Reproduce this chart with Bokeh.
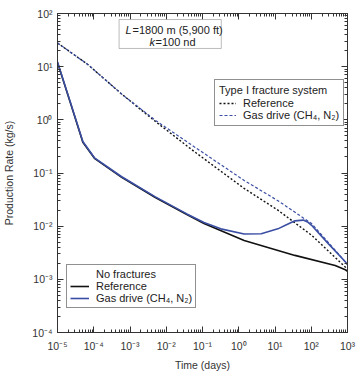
from bokeh.plotting import figure
from bokeh.models import (Range1d, LogAxis, FixedTicker, Legend, LegendItem,
                          Label, BoxAnnotation, CustomJSTickFormatter)
from bokeh.embed import file_html
from bokeh.resources import INLINE

# ---- data ----
# No fractures, reference (solid black)
t_nf_ref = [1e-5, 2.24e-5, 5.0e-5, 1.07e-4, 5.9e-4, 5.0e-3, 0.037, 0.11, 1.41, 35.5, 457, 871, 1000]
q_nf_ref = [12.0, 2.14, 0.38, 0.186, 0.083, 0.0347, 0.0166, 0.0112, 0.00537, 0.00282, 0.00182, 0.00151, 0.00142]

# No fractures, gas drive (solid blue)
t_nf_gas = [1e-5, 2.24e-5, 5.0e-5, 1.07e-4, 5.9e-4, 5.0e-3, 0.037, 0.11, 0.32, 1.41, 4.17, 12, 20, 35.5, 60, 79, 102, 295, 871, 1000]
q_nf_gas = [12.3, 2.2, 0.39, 0.19, 0.085, 0.0355, 0.0170, 0.0117, 0.0089, 0.0071, 0.0072, 0.0089, 0.0105, 0.0126, 0.0130, 0.0120, 0.0104, 0.0047, 0.00214, 0.0019]

# Type I fracture system, reference (dashed black)
t_fr_ref = [1e-5, 6.85e-5, 6.07e-4, 5.04e-3, 0.0575, 1.41, 12, 102, 871, 1000]
q_fr_ref = [27.9, 11.0, 3.0, 0.93, 0.257, 0.0513, 0.020, 0.00676, 0.0017, 0.00151]

# Type I fracture system, gas drive (dashed blue)
t_fr_gas = [1e-5, 6.85e-5, 6.07e-4, 5.04e-3, 0.0575, 1.41, 12, 102, 562, 1000]
q_fr_gas = [27.9, 11.0, 3.0, 0.977, 0.316, 0.0724, 0.0302, 0.0112, 0.0030, 0.0019]

x_tick_values = [1e-5, 1e-4, 1e-3, 1e-2, 1e-1, 1e0, 1e1, 1e2, 1e3]
x_tick_labels = ["10⁻⁵", "10⁻⁴", "10⁻³", "10⁻²", "10⁻¹", "10⁰", "10¹", "10²", "10³"]
y_tick_values = [1e-4, 1e-3, 1e-2, 1e-1, 1e0, 1e1, 1e2]
y_tick_labels = ["10⁻⁴", "10⁻³", "10⁻²", "10⁻¹", "10⁰", "10¹", "10²"]

BLUE = "#3a4ea3"
BLACK = "#111111"
AX = "#333333"
FONT = "Liberation Sans"

x_minor = [m * 10.0 ** e for e in range(-5, 3) for m in range(2, 10)]
y_minor = [m * 10.0 ** e for e in range(-4, 2) for m in range(2, 10)]

p = figure(frame_width=290, frame_height=319, x_axis_type="log", y_axis_type="log",
           x_range=Range1d(1e-5, 1e3), y_range=Range1d(1e-4, 1e2),
           output_backend="svg", toolbar_location=None,
           min_border_left=55, min_border_right=15, min_border_top=13, min_border_bottom=42)
p.grid.visible = False
p.outline_line_color = AX
p.background_fill_color = "white"
p.border_fill_color = "white"

xt = FixedTicker(ticks=x_tick_values, minor_ticks=x_minor)
yt = FixedTicker(ticks=y_tick_values, minor_ticks=y_minor)


def style_axis(ax, ticker):
    ax.ticker = ticker
    ax.axis_line_color = AX
    ax.major_tick_line_color = AX
    ax.minor_tick_line_color = AX
    ax.major_tick_in = 6
    ax.major_tick_out = 0
    ax.minor_tick_in = 3
    ax.minor_tick_out = 0
    ax.major_label_text_font = FONT
    ax.major_label_text_font_size = "10.5px"
    ax.major_label_text_color = AX
    ax.axis_label_text_font = FONT
    ax.axis_label_text_font_size = "10.5px"
    ax.axis_label_text_font_style = "normal"
    ax.axis_label_text_color = AX


style_axis(p.xaxis[0], xt)
style_axis(p.yaxis[0], yt)
p.xaxis[0].major_label_overrides = dict(zip(x_tick_values, x_tick_labels))
p.yaxis[0].major_label_overrides = dict(zip(y_tick_values, y_tick_labels))
p.xaxis[0].axis_label = "Time (days)"
p.yaxis[0].axis_label = "Production Rate (kg/s)"
p.xaxis[0].major_label_standoff = 7
p.xaxis[0].axis_label_standoff = 4
p.yaxis[0].major_label_standoff = 5
p.yaxis[0].axis_label_standoff = 14

empty = CustomJSTickFormatter(code="return ''")
top = LogAxis(formatter=empty)
right = LogAxis(formatter=empty)
style_axis(top, FixedTicker(ticks=x_tick_values, minor_ticks=x_minor))
style_axis(right, FixedTicker(ticks=y_tick_values, minor_ticks=y_minor))
for a in (top, right):
    a.major_label_text_font_size = "1px"
    a.major_label_standoff = 0
p.add_layout(top, "above")
p.add_layout(right, "right")

# ---- lines ----
r_fr_ref = p.line(t_fr_ref, q_fr_ref, line_color=BLACK, line_width=1.4, line_dash="2 2")
r_fr_gas = p.line(t_fr_gas, q_fr_gas, line_color=BLUE, line_width=1.2, line_dash="3 2")
r_nf_ref = p.line(t_nf_ref, q_nf_ref, line_color=BLACK, line_width=1.6)
r_nf_gas = p.line(t_nf_gas, q_nf_gas, line_color=BLUE, line_width=1.6)
r_blank = p.line(x=[], y=[], line_alpha=0)

# ---- legends ----
leg1 = Legend(items=[LegendItem(label="Reference", renderers=[r_fr_ref]),
                     LegendItem(label="Gas drive (CH₄, N₂)", renderers=[r_fr_gas])],
              title="Type I fracture system", location=(157, 206))
leg2 = Legend(items=[LegendItem(label="No fractures", renderers=[r_blank]),
                     LegendItem(label="Reference", renderers=[r_nf_ref]),
                     LegendItem(label="Gas drive (CH₄, N₂)", renderers=[r_nf_gas])],
              location=(9, 24))
for lg, gw, pad in ((leg1, 17, 4), (leg2, 19, 3)):
    lg.label_text_font = FONT
    lg.label_text_font_size = "11px"
    lg.label_text_color = "#222222"
    lg.title_text_font = FONT
    lg.title_text_font_size = "11px"
    lg.title_text_font_style = "normal"
    lg.title_text_color = "#222222"
    lg.title_standoff = 1
    lg.label_height = 12
    lg.glyph_height = 12
    lg.glyph_width = gw
    lg.label_standoff = 7
    lg.spacing = 0
    lg.padding = pad
    lg.margin = 0
    lg.border_line_color = "#222222"
    lg.border_line_width = 1
    lg.background_fill_color = "white"
    lg.background_fill_alpha = 1
    p.add_layout(lg, "center")

# ---- parameter box ----
p.add_layout(BoxAnnotation(left=5.0e-4, right=0.33, bottom=22, top=77,
                           fill_color="white", fill_alpha=1,
                           line_color="#222222", line_width=1))
txt = dict(x_units="screen", y_units="screen", text_font=FONT, text_font_size="11px",
           text_color="#222222", text_baseline="middle")
p.add_layout(Label(x=68, y=303, text="L", text_font_style="italic", **txt))
p.add_layout(Label(x=75, y=303, text="=1800 m (5,900 ft)", **txt))
p.add_layout(Label(x=92, y=291, text="k", text_font_style="italic", **txt))
p.add_layout(Label(x=98, y=291, text="=100 nd", **txt))

open("out.html", "w").write(file_html(p, INLINE))
